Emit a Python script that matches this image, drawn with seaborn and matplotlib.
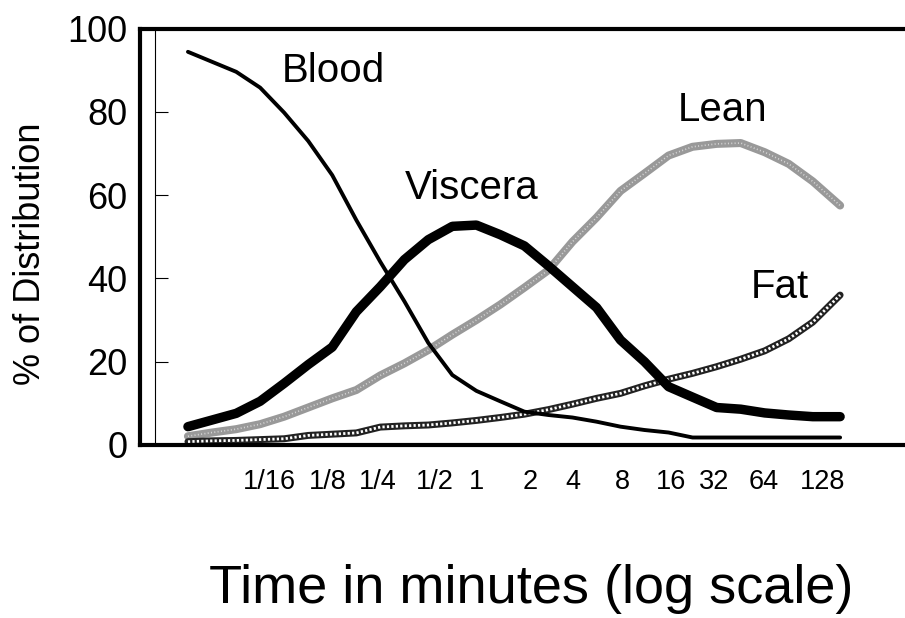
import matplotlib
matplotlib.use("Agg")
import matplotlib.pyplot as plt
from matplotlib.ticker import FixedLocator, FixedFormatter, NullLocator
from matplotlib.transforms import ScaledTranslation
import pandas as pd
import seaborn as sns

# time points in minutes (half-doubling steps)
minutes = [0.0156, 0.0221, 0.0313, 0.0442, 0.0625, 0.0884, 0.125, 0.177, 0.25, 0.354,
           0.5, 0.707, 1, 1.41, 2, 2.83, 4, 5.66, 8, 11.3,
           16, 22.6, 32, 45.3, 64, 90.5, 128, 190]

# % of distribution per compartment
blood = [94.4, 92.0, 89.6, 85.8, 79.8, 73.0, 64.8, 54.0, 44.0, 34.5,
         24.5, 16.8, 13.0, 10.5, 8.0, 7.2, 6.6, 5.6, 4.4, 3.6,
         3.0, 1.8, 1.8, 1.8, 1.8, 1.8, 1.8, 1.8]
viscera = [4.4, 6.0, 7.6, 10.5, 14.8, 19.3, 23.5, 32.0, 38.0, 44.5,
           49.3, 52.5, 52.8, 50.5, 47.8, 43.0, 38.0, 33.0, 25.2, 20.0,
           14.0, 11.5, 9.0, 8.6, 7.7, 7.2, 6.8, 6.8]
lean = [2.1, 3.0, 3.8, 5.0, 6.8, 9.0, 11.2, 13.2, 16.7, 19.6,
        22.8, 26.5, 30.0, 33.7, 37.8, 42.0, 48.8, 54.6, 61.0, 65.2,
        69.5, 71.6, 72.3, 72.5, 70.3, 67.5, 63.3, 57.5]
fat = [0.8, 1.0, 1.1, 1.3, 1.5, 2.3, 2.6, 2.9, 4.3, 4.6,
       4.8, 5.3, 5.9, 6.6, 7.4, 8.5, 9.8, 11.2, 12.4, 14.2,
       15.8, 17.2, 18.8, 20.6, 22.6, 25.5, 29.5, 36.0]

tick_minutes = [1/32, 1/16, 1/8, 1/4, 1/2, 1, 2, 4, 8, 16, 32, 64, 128, 256]
tick_labels = ["", "1/16", "1/8", "1/4", "1/2", "1", "2", "4", "8", "16", "32", "64", "128", ""]
# small sideways nudges (px) of the tick labels, as typeset in the original
label_nudge = [0, -15, -4, -3, 6, 0, 6, 0, 2, 2, -3, -1, 10, 0]
y_ticks = [0, 20, 40, 60, 80, 100]

# label name, x (minutes), y (%)
labels = [("Blood", 0.127, 89.9), ("Viscera", 0.93, 61.7), ("Lean", 34.7, 80.5), ("Fat", 80, 37.9)]

sns.set_style("white")
plt.rcParams["font.family"] = ["Liberation Sans", "DejaVu Sans"]
plt.rcParams["text.color"] = "black"
plt.rcParams["axes.labelcolor"] = "black"

df = pd.DataFrame({"minutes": minutes, "Blood": blood, "Viscera": viscera, "Lean": lean, "Fat": fat})

fig = plt.figure(figsize=(9.05, 6.18), dpi=100)
ax = fig.add_axes([140 / 905, 1 - 445 / 618, 765 / 905, (445 - 28.5) / 618])

sns.lineplot(data=df, x="minutes", y="Lean", ax=ax, color="#999999", lw=5.8)
sns.lineplot(data=df, x="minutes", y="Lean", ax=ax, color="white", lw=1.2, ls=(0, (0.6, 1.4)), alpha=0.6)
sns.lineplot(data=df, x="minutes", y="Fat", ax=ax, color="#222222", lw=5.0)
sns.lineplot(data=df, x="minutes", y="Fat", ax=ax, color="white", lw=2.0, ls=(0, (0.8, 0.8)))
sns.lineplot(data=df, x="minutes", y="Viscera", ax=ax, color="black", lw=6.8)
sns.lineplot(data=df, x="minutes", y="Blood", ax=ax, color="black", lw=2.8)

ax.set_xscale("log", base=2)
ax.set_xlim(2 ** -7, 2 ** 8.92)
ax.set_ylim(0, 100)

ax.xaxis.set_major_locator(FixedLocator(tick_minutes))
ax.xaxis.set_major_formatter(FixedFormatter(tick_labels))
ax.xaxis.set_minor_locator(NullLocator())
ax.tick_params(axis="x", direction="in", length=10, width=0.9, pad=17, labelsize=19.5, colors="black")

ax.set_yticks(y_ticks)
ax.tick_params(axis="y", length=0, pad=9, labelsize=26, colors="black")

for lab, dx in zip(ax.get_xticklabels(), label_nudge):
    lab.set_transform(lab.get_transform() + ScaledTranslation(dx / 100, 0, fig.dpi_scale_trans))

# inner y axis line with its ticks
ax.plot([0.0196, 0.0196], [0, 1], transform=ax.transAxes, color="black", lw=0.8)
ax.hlines(y_ticks[1:-1], 0.0196, 0.036, transform=ax.get_yaxis_transform(), color="black", lw=0.8)

for side in ["top", "left", "bottom"]:
    ax.spines[side].set_linewidth(3.0)
    ax.spines[side].set_color("black")
ax.spines["right"].set_visible(False)

for name, x, y in labels:
    ax.text(x, y, name, fontsize=29, ha="center", va="center", color="black")

ax.set_ylabel("% of Distribution", fontsize=26)
ax.yaxis.set_label_coords(-0.12, 0.46)
ax.set_xlabel("Time in minutes (log scale)", fontsize=39)
ax.xaxis.set_label_coords(0.512, -0.285)

fig.savefig("out.png", dpi=100)
